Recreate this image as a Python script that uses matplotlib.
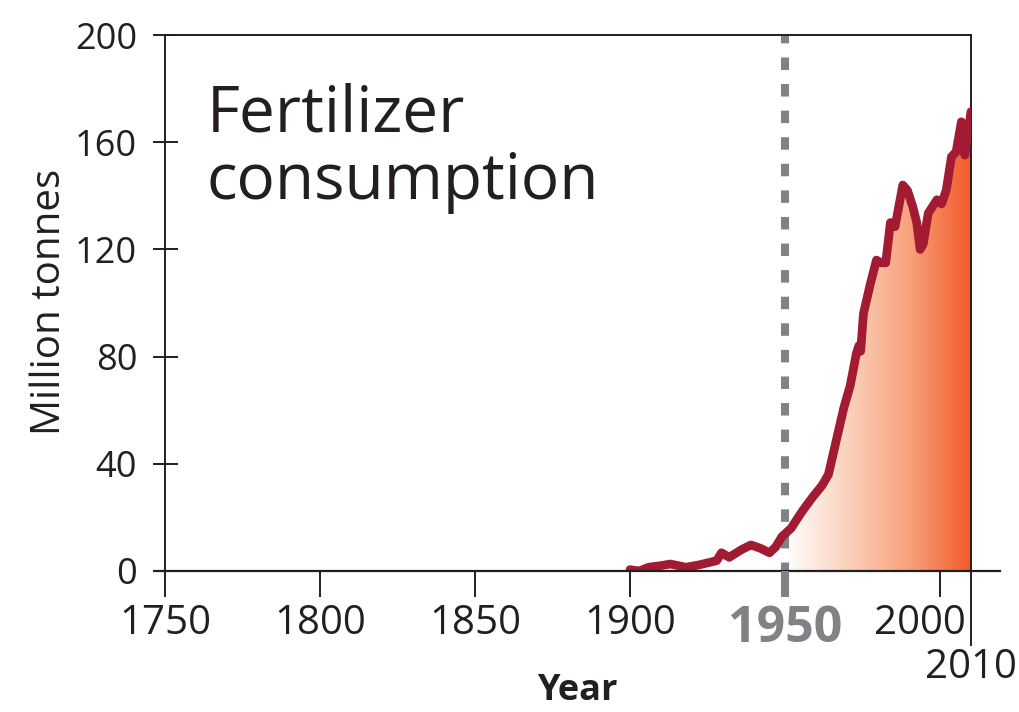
import numpy as np
import matplotlib
matplotlib.use("Agg")
import matplotlib.pyplot as plt
from matplotlib.colors import LinearSegmentedColormap
from matplotlib.transforms import ScaledTranslation

# ---- data ----
years = [1900, 1903, 1906, 1910, 1913, 1918, 1922, 1926, 1928, 1929.5, 1932,
         1936, 1939, 1942, 1945, 1947, 1949, 1952, 1954, 1956, 1959, 1962,
         1964, 1966, 1969, 1971, 1973, 1973.8, 1974.4, 1975.3, 1977.5, 1979.5,
         1981, 1982.5, 1984, 1985.5, 1988, 1989.5, 1991.2, 1992.5, 1993.6,
         1994.6, 1996.2, 1999, 2000.5, 2002, 2003.7, 2005.2, 2006.9, 2008,
         2010]
values = [0.5, 0.0, 1.4, 2.0, 2.6, 1.4, 2.2, 3.3, 3.9, 6.8, 5.1,
          8.0, 9.7, 8.5, 6.8, 9.0, 12.8, 16.0, 19.6, 23.0, 27.7, 32.0,
          36.0, 46.0, 61.0, 69.0, 81.0, 84.0, 82.0, 96.0, 107.0, 116.0,
          115.0, 115.0, 130.0, 128.5, 144.0, 142.0, 136.0, 130.0, 120.0,
          122.0, 133.5, 138.5, 137.0, 142.0, 154.6, 156.4, 167.6, 155.2,
          171.4]

y_ticks = [0, 40, 80, 120, 160, 200]
x_ticks = [1750, 1800, 1850, 1900, 2000]
marker_year = 1950
end_year = 2010
title_lines = ["Fertilizer", "consumption"]
x_label = "Year"
y_label = "Million tonnes"

# ---- style ----
plt.rcParams['font.family'] = ['Open Sans', 'DejaVu Sans']
TXT = '#231f20'
GRAY = '#808285'
RED = '#a21b32'
ORANGE = '#f15a29'

W, H = 1020, 712
fig = plt.figure(figsize=(W / 100, H / 100), dpi=100)
L, R, T, B = 165, 971, 35, 571
ax = fig.add_axes([L / W, 1 - B / H, (R - L) / W, (B - T) / H])

ax.set_xlim(1750, end_year)
ax.set_ylim(0, 200)

# gradient fill under the curve from 1950 to 2010
yrs = np.array(years, dtype=float)
vals = np.array(values, dtype=float)
v1950 = np.interp(marker_year, yrs, vals)
sel = yrs > marker_year
fx = np.concatenate([[marker_year], yrs[sel]])
fy = np.concatenate([[v1950], vals[sel]])
poly = ax.fill_between(fx, 0, fy, facecolor='none', edgecolor='none')
cmap = LinearSegmentedColormap.from_list('g', ['#ffffff', '#fbd2bc', '#f7a27c', ORANGE])
grad = np.linspace(0, 1, 512).reshape(1, -1)
im = ax.imshow(grad, extent=[marker_year, end_year, 0, 200], aspect='auto',
               cmap=cmap, origin='lower', zorder=1, interpolation='bilinear')
im.set_clip_path(poly.get_paths()[0], transform=ax.transData)
ax.set_xlim(1750, end_year)
ax.set_ylim(0, 200)

# dashed 1950 line
ax.plot([marker_year, marker_year], [0, 200], color=GRAY, lw=5.8,
        linestyle=(0.5, (1.55, 1.75)), solid_capstyle='butt', zorder=2)

# data line
ax.plot(years, values, color=RED, lw=6.3, solid_joinstyle='round',
        solid_capstyle='round', zorder=3)

# spines
for s in ['left', 'top', 'right']:
    ax.spines[s].set_color(TXT)
    ax.spines[s].set_linewidth(1.4)
ax.spines['bottom'].set_visible(False)
# custom x-axis line extending past the right spine
ax.plot([-0.012, 1.036], [0, 0], color=TXT, lw=1.6, transform=ax.get_yaxis_transform(),
        clip_on=False, zorder=4)
# extension of the right spine down to the 2010 label
ax.plot([end_year, end_year], [0, -0.138], color=TXT, lw=1.4,
        transform=ax.get_xaxis_transform(), clip_on=False, zorder=4)
# gray 1950 tick
ax.plot([marker_year, marker_year], [0.0, -0.0485], color=GRAY, lw=5.8,
        solid_capstyle='butt', transform=ax.get_xaxis_transform(), clip_on=False, zorder=4)

ax.set_yticks(y_ticks)
ax.set_yticklabels([str(v) for v in y_ticks])
ax.set_xticks(x_ticks)
ax.set_xticklabels([str(v) for v in x_ticks])
ax.tick_params(axis='y', direction='inout', length=18, width=1.4, colors=TXT,
               labelsize=26, pad=11)
ax.tick_params(axis='x', direction='out', length=18.7, width=1.4, colors=TXT,
               labelsize=29, pad=5)
# nudge the 2000 label left so it clears the 2010 line
lab2000 = ax.get_xticklabels()[-1]
lab2000.set_transform(lab2000.get_transform() +
                      ScaledTranslation(-20 / 100, 0, fig.dpi_scale_trans))

# special x labels
ax.text(marker_year, -0.062, str(marker_year), transform=ax.get_xaxis_transform(),
        ha='center', va='top', fontsize=36, fontweight='bold', color=GRAY)
ax.text(end_year, -0.142, str(end_year), transform=ax.get_xaxis_transform(),
        ha='center', va='top', fontsize=29, color=TXT)

# axis labels
fig.text(577 / W, 1 - 700 / H, x_label, ha='center', va='baseline',
         fontsize=26, fontweight='bold', color=TXT)
fig.text(50 / W, 1 - 302 / H, y_label, ha='center', va='center', rotation=90,
         fontsize=29, color=TXT)

# title
fig.text(207 / W, 1 - 131 / H, title_lines[0], ha='left', va='baseline',
         fontsize=46, color=TXT)
fig.text(207 / W, 1 - 199 / H, title_lines[1], ha='left', va='baseline',
         fontsize=46, color=TXT)

fig.savefig('out.png', dpi=100, facecolor='white')
